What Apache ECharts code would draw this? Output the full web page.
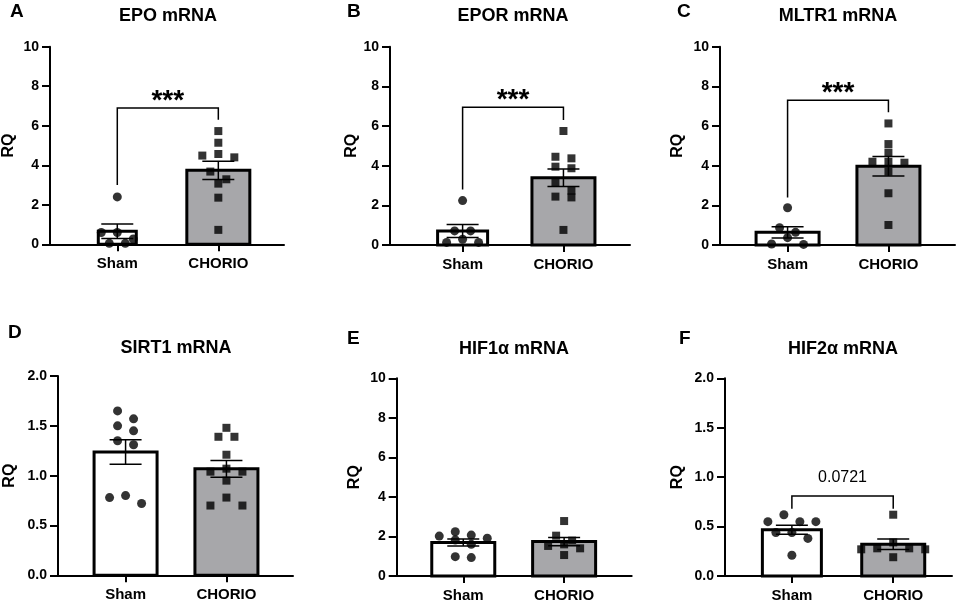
<!DOCTYPE html>
<html>
<head>
<meta charset="utf-8">
<script src="https://cdn.jsdelivr.net/npm/echarts@6.0.0/dist/echarts.min.js"></script>
<style>
html, body { margin: 0; padding: 0; background: #fff; }
#chart { width: 962px; height: 604px; }
</style>
</head>
<body>
<div id="chart"></div>
<script>
// group names on every x axis
var groups = ['Sham', 'CHORIO'];

// individual RQ values
var epoSham = [2.4, 0.6, 0.6, 0.27, 0.05, 0.05];
var epoChorio = [5.73, 5.14, 4.57, 4.49, 4.40, 3.68, 3.29, 3.07, 2.36, 0.73];
var eporSham = [2.24, 0.71, 0.71, 0.29, 0.13, 0.13];
var eporChorio = [5.75, 4.45, 4.37, 3.95, 3.87, 3.14, 2.74, 2.44, 2.40, 0.76];
var mltr1Sham = [1.88, 0.87, 0.64, 0.37, 0.05, 0.03];
var mltr1Chorio = [6.13, 5.09, 4.66, 4.20, 4.20, 4.15, 3.70, 2.61, 1.01];
var sirt1Sham = [1.65, 1.57, 1.50, 1.45, 1.35, 1.31, 0.80, 0.78, 0.72];
var sirt1Chorio = [1.48, 1.39, 1.39, 1.21, 1.07, 1.04, 1.04, 0.95, 0.78, 0.70, 0.70];
var hif1Sham = [2.24, 2.07, 2.02, 1.91, 1.82, 1.60, 0.98, 0.93];
var hif1Chorio = [2.78, 2.04, 1.79, 1.60, 1.52, 1.40, 1.06];
var hif2Sham = [0.62, 0.55, 0.55, 0.55, 0.44, 0.44, 0.38, 0.21];
var hif2Chorio = [0.62, 0.34, 0.28, 0.28, 0.27, 0.27, 0.19];

// significance brackets: [left leg end, bracket level, right leg end]
var bracketA = [3.0, 6.9, 6.3];
var bracketB = [2.8, 6.95, 6.3];
var bracketC = [2.4, 7.3, 6.7];
var bracketF = [0.68, 0.81, 0.68];

// y axis ticks
var ticksRQ10 = [0, 2, 4, 6, 8, 10];
var ticksRQ2 = [0, 0.5, 1.0, 1.5, 2.0];

var FONT = 'Liberation Sans, Arial, Helvetica, sans-serif';
var GREY = '#a7a7aa';

var panels = [
    {letter: 'A', title: 'EPO mRNA', sham: epoSham, chorio: epoChorio, ticks: ticksRQ10, bracket: bracketA, mark: '***',
        left: 50, top: 46.7, width: 234, height: 197.6, xMin: 0.334, xMax: 2.65, shamWidth: 38,
        letterX: 10, letterY: 2, titleX: 168, titleY: 7, nameGap: 33},
    {letter: 'B', title: 'EPOR mRNA', sham: eporSham, chorio: eporChorio, ticks: ticksRQ10, bracket: bracketB, mark: '***',
        left: 390, top: 46.7, width: 240, height: 198.3, xMin: 0.28, xMax: 2.66, shamWidth: 50,
        letterX: 347, letterY: 2, titleX: 513, titleY: 7, nameGap: 30},
    {letter: 'C', title: 'MLTR1 mRNA', sham: mltr1Sham, chorio: mltr1Chorio, ticks: ticksRQ10, bracket: bracketC, mark: '***',
        left: 720, top: 46.7, width: 235, height: 198.3, xMin: 0.33, xMax: 2.66, shamWidth: 63,
        letterX: 677, letterY: 2, titleX: 838, titleY: 7, nameGap: 34},
    {letter: 'D', title: 'SIRT1 mRNA', sham: sirt1Sham, chorio: sirt1Chorio, ticks: ticksRQ2, bracket: null, mark: '',
        left: 58, top: 376, width: 235, height: 199.3, xMin: 0.33, xMax: 2.66, shamWidth: 63,
        letterX: 8, letterY: 323, titleX: 176, titleY: 339, nameGap: 40},
    {letter: 'E', title: 'HIF1\u03b1 mRNA', sham: hif1Sham, chorio: hif1Chorio, ticks: ticksRQ10, bracket: null, mark: '',
        left: 396.7, top: 378.3, width: 235, height: 197.7, xMin: 0.34, xMax: 2.67, shamWidth: 63,
        letterX: 347, letterY: 329, titleX: 514, titleY: 340, nameGap: 34},
    {letter: 'F', title: 'HIF2\u03b1 mRNA', sham: hif2Sham, chorio: hif2Chorio, ticks: ticksRQ2, bracket: bracketF, mark: '0.0721',
        left: 725, top: 378.3, width: 227, height: 197.7, xMin: 0.34, xMax: 2.58, shamWidth: 59,
        letterX: 679, letterY: 329, titleX: 843, titleY: 340, nameGap: 39}
];

function mean(a) {
    return a.reduce(function (t, v) { return t + v; }, 0) / a.length;
}

function sem(a) {
    var m = mean(a);
    var ss = a.reduce(function (t, v) { return t + (v - m) * (v - m); }, 0);
    return Math.sqrt(ss / (a.length - 1)) / Math.sqrt(a.length);
}

// row-based scatter spread: values closer than rowPx pixels share a row,
// each row is centred on the group with 16px between neighbours
function swarm(values, center, pxX, pxY) {
    var rowPx = 8, spacing = 16;
    var sorted = values.slice().sort(function (a, b) { return b - a; });
    var rows = [];
    sorted.forEach(function (v) {
        var last = rows[rows.length - 1];
        if (last && (last[0] - v) * pxY < rowPx) {
            last.push(v);
        } else {
            rows.push([v]);
        }
    });
    var out = [];
    rows.forEach(function (row) {
        var n = row.length;
        var slots = [];
        for (var k = 0; k < n; k++) {
            slots.push((k - (n - 1) / 2) * spacing);
        }
        slots.sort(function (a, b) { return Math.abs(a) - Math.abs(b) || a - b; });
        row.forEach(function (v, k) {
            out.push([center + slots[k] / pxX, v]);
        });
    });
    return out;
}

var grids = [], xAxes = [], yAxes = [], series = [], titles = [];

panels.forEach(function (p, i) {
    var yMax = p.ticks[p.ticks.length - 1];
    var yStep = p.ticks[1] - p.ticks[0];
    var pxX = p.width / (p.xMax - p.xMin);
    var pxY = p.height / yMax;

    grids.push({left: p.left, top: p.top, width: p.width, height: p.height, containLabel: false});

    titles.push({text: p.letter, left: p.letterX, top: p.letterY, padding: 0,
        textStyle: {fontSize: 19, fontWeight: 'bold', fontFamily: FONT, color: '#000'}});
    titles.push({text: p.title, left: p.titleX, top: p.titleY, padding: 0, textAlign: 'center',
        textStyle: {fontSize: 18, fontWeight: 'bold', fontFamily: FONT, color: '#000'}});

    xAxes.push({
        gridIndex: i, type: 'value', min: p.xMin, max: p.xMax,
        splitLine: {show: false},
        axisLine: {onZero: false, lineStyle: {color: '#000', width: 2}},
        axisTick: {customValues: [1, 2], length: 7, lineStyle: {color: '#000', width: 2}},
        axisLabel: {customValues: [1, 2], margin: 12, color: '#000', fontSize: 15, fontWeight: 'bold', fontFamily: FONT,
            formatter: function (v) { return groups[Math.round(v) - 1]; }}
    });

    yAxes.push({
        gridIndex: i, type: 'value', min: 0, max: yMax, interval: yStep,
        name: 'RQ', nameLocation: 'middle', nameGap: p.nameGap, nameRotate: 90,
        nameTextStyle: {color: '#000', fontSize: 16, fontWeight: 'bold', fontFamily: FONT},
        splitLine: {show: false},
        axisLine: {show: true, onZero: false, lineStyle: {color: '#000', width: 2}},
        axisTick: {show: true, length: 8, lineStyle: {color: '#000', width: 2}},
        axisLabel: {color: '#000', fontSize: 14, fontWeight: 'bold', fontFamily: FONT, margin: 11,
            formatter: function (v) { return yMax < 5 ? v.toFixed(1) : String(v); }}
    });

    series.push({
        type: 'custom', name: p.title + ' mean', xAxisIndex: i, yAxisIndex: i, z: 2,
        data: [[1, mean(p.sham)], [2, mean(p.chorio)]],
        encode: {x: 0, y: 1},
        renderItem: function (params, api) {
            var top = api.coord([api.value(0), api.value(1)]);
            var base = api.coord([api.value(0), 0]);
            var w = params.dataIndex === 0 ? p.shamWidth : 63;
            return {
                type: 'rect',
                shape: {x: top[0] - w / 2, y: top[1], width: w, height: base[1] - top[1]},
                style: {fill: params.dataIndex === 0 ? '#ffffff' : GREY, stroke: '#000', lineWidth: 3}
            };
        }
    });

    series.push({
        type: 'custom', name: p.title + ' SEM', xAxisIndex: i, yAxisIndex: i, z: 3,
        data: [[1, mean(p.sham) - sem(p.sham), mean(p.sham) + sem(p.sham)],
               [2, mean(p.chorio) - sem(p.chorio), mean(p.chorio) + sem(p.chorio)]],
        encode: {x: 0, y: [1, 2]},
        renderItem: function (params, api) {
            var lo = api.coord([api.value(0), api.value(1)]);
            var hi = api.coord([api.value(0), api.value(2)]);
            var c = 16;
            var st = {stroke: '#000', lineWidth: 1.5};
            return {type: 'group', children: [
                {type: 'line', shape: {x1: lo[0], y1: lo[1], x2: hi[0], y2: hi[1]}, style: st},
                {type: 'line', shape: {x1: lo[0] - c, y1: lo[1], x2: lo[0] + c, y2: lo[1]}, style: st},
                {type: 'line', shape: {x1: hi[0] - c, y1: hi[1], x2: hi[0] + c, y2: hi[1]}, style: st}
            ]};
        }
    });

    series.push({
        type: 'scatter', name: groups[0], xAxisIndex: i, yAxisIndex: i, z: 4,
        symbol: 'circle', symbolSize: 9, itemStyle: {color: '#000'},
        data: swarm(p.sham, 1, pxX, pxY)
    });
    series.push({
        type: 'scatter', name: groups[1], xAxisIndex: i, yAxisIndex: i, z: 4,
        symbol: 'rect', symbolSize: 8, itemStyle: {color: '#000'},
        data: swarm(p.chorio, 2, pxX, pxY)
    });

    if (p.bracket) {
        var big = p.mark === '***';
        series.push({
            type: 'custom', name: p.title + ' test', xAxisIndex: i, yAxisIndex: i, z: 5,
            data: [[1, 2, p.bracket[0], p.bracket[1], p.bracket[2]]],
            encode: {x: [0, 1], y: [2, 3, 4]},
            renderItem: function (params, api) {
                var a = api.coord([api.value(0), api.value(2)]);
                var b = api.coord([api.value(0), api.value(3)]);
                var c = api.coord([api.value(1), api.value(3)]);
                var d = api.coord([api.value(1), api.value(4)]);
                return {type: 'group', children: [
                    {type: 'polyline', shape: {points: [a, b, c, d]},
                        style: {stroke: '#000', lineWidth: 1.5, fill: null}},
                    {type: 'text', x: (b[0] + c[0]) / 2, y: b[1] - (big ? 7 : 18),
                        style: {text: p.mark, fill: '#000', align: 'center', verticalAlign: 'middle',
                            font: (big ? 'bold 28px ' : '16px ') + FONT}}
                ]};
            }
        });
    }
});

var chart = echarts.init(document.getElementById('chart'));
chart.setOption({
    animation: false,
    backgroundColor: '#ffffff',
    title: titles,
    grid: grids,
    xAxis: xAxes,
    yAxis: yAxes,
    series: series
});
</script>
</body>
</html>
